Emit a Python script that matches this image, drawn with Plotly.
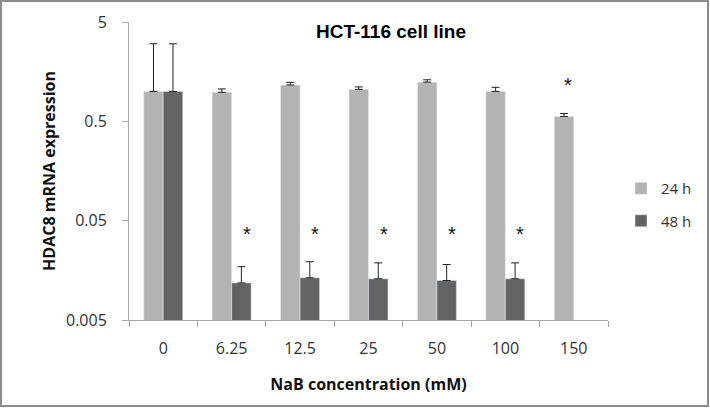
import math
import plotly.graph_objects as go

categories = ["0", "6.25", "12.5", "25", "50", "100", "150"]
h24 = [1.00, 0.98, 1.16, 1.05, 1.24, 1.00, 0.56]
h24_err = [2.02, 0.08, 0.075, 0.06, 0.07, 0.10, 0.04]
h48 = [1.00, 0.0118, 0.0133, 0.0130, 0.0125, 0.0130, None]
h48_err = [2.02, 0.0054, 0.0060, 0.0058, 0.0056, 0.0058, 0]
sig24 = [False, False, False, False, False, False, True]
sig48 = [False, True, True, True, True, True, False]
sig24_level = 1.16
sig48_level = 0.037

W, H = 710, 408
L, R, T, B = 129, 102, 22, 88
pw, ph = W - L - R, H - T - B

def px(x):
    return (x - L) / pw

def py(y):
    return (H - B - y) / ph

fig = go.Figure()
fig.add_trace(go.Bar(
    x=categories, y=h24, name="24 h", marker_color="#b3b3b3",
    legendgroup="a",
    error_y=dict(type="data", array=h24_err, arrayminus=[0]*7, symmetric=False,
                 color="#222222", thickness=1, width=4),
))
fig.add_trace(go.Bar(
    x=categories, y=h48, name="48 h", marker_color="#636363",
    legendgroup="b",
    error_y=dict(type="data", array=h48_err, arrayminus=[0]*7, symmetric=False,
                 color="#222222", thickness=1, width=4),
))

annotations = []
for i, s in enumerate(sig48):
    if s:
        annotations.append(dict(x=i, y=math.log10(sig48_level), xref="x", yref="y",
                                text="*", showarrow=False, xshift=15,
                                font=dict(family="Liberation Sans", size=20, color="#111111")))
for i, s in enumerate(sig24):
    if s:
        annotations.append(dict(x=i, y=math.log10(sig24_level), xref="x", yref="y",
                                text="*", showarrow=False, xshift=-6,
                                font=dict(family="Liberation Sans", size=20, color="#111111")))

annotations.append(dict(x=px(391), y=py(31), xref="paper", yref="paper",
                        text="<b>HCT-116 cell line</b>", showarrow=False,
                        xanchor="center", yanchor="middle",
                        font=dict(family="Liberation Sans", size=19, color="#000000")))

fig.update_layout(
    width=W, height=H,
    margin=dict(l=L, r=R, t=T, b=B),
    paper_bgcolor="white", plot_bgcolor="white",
    barmode="group", bargap=0.43, bargroupgap=0,
    annotations=annotations,
    legend=dict(x=px(621), y=py(172), xanchor="left", yanchor="top",
                font=dict(family="Open Sans", size=15, color="#333333"),
                tracegroupgap=10, itemwidth=30, bgcolor="rgba(0,0,0,0)"),
    xaxis=dict(type="category", range=[-0.5, 6.5], showline=True, linecolor="#a6a6a6", linewidth=1,
               ticks="outside", tickson="boundaries", ticklen=6, tickcolor="#a6a6a6",
               tickangle=0, ticklabelstandoff=14,
               tickfont=dict(family="Open Sans", size=16, color="#333333"),
               title=dict(text="<b>NaB concentration (mM)</b>", standoff=20,
                          font=dict(family="Open Sans", size=16, color="#111111")),
               showgrid=False),
    yaxis=dict(type="log", range=[math.log10(0.005), math.log10(5)],
               tickvals=[0.005, 0.05, 0.5, 5], ticktext=["0.005", "0.05", "0.5", "5"],
               showline=True, linecolor="#a6a6a6", linewidth=1,
               ticks="outside", ticklen=6, tickcolor="#a6a6a6",
               ticklabelstandoff=12,
               tickfont=dict(family="Open Sans", size=16, color="#333333"),
               title=dict(text="<b>HDAC8 mRNA expression</b>", standoff=6,
                          font=dict(family="Open Sans", size=16, color="#111111")),
               showgrid=False, zeroline=False),
    shapes=[dict(type="rect", xref="paper", yref="paper",
                 x0=px(1), x1=px(708), y0=py(406), y1=py(1),
                 line=dict(color="#8c8c8c", width=2), layer="above")],
    showlegend=True,
)

fig.write_html("out.html", config={"displayModeBar": False},
               post_script="document.body.style.margin='0';document.body.style.overflow='hidden';")
